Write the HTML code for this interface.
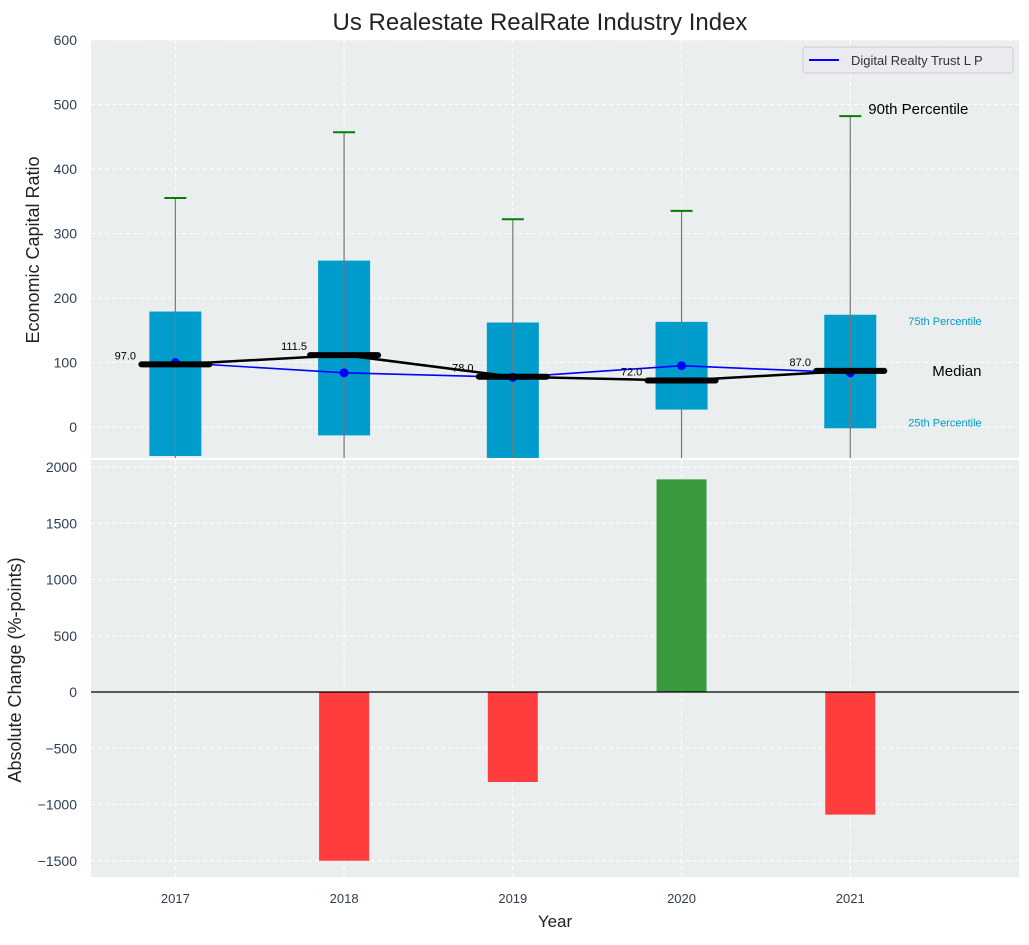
<!DOCTYPE html>
<html><head><meta charset="utf-8"><style>
body{margin:0;background:#fff;font-family:"Liberation Sans",Arial,sans-serif}
svg text{font-family:"Liberation Sans",Arial,sans-serif}
</style></head><body>
<svg id="c" width="1029" height="940" xmlns="http://www.w3.org/2000/svg"></svg>
<script>
const years=[2017,2018,2019,2020,2021];
const p25=[-45,-13,-48,27,-2];
const p75=[179,258,162,163,174];
const p90=[355,457,322,335,482];
const medians=[97,111.5,78,72,87];
const company=[100,84,77,95,84];
const changes=[0,-1500,-800,1890,-1090];
const topTicks=[0,100,200,300,400,500,600];
const botTicks=[-1500,-1000,-500,0,500,1000,1500,2000];

const svg=document.getElementById('c');
const NS='http://www.w3.org/2000/svg';
function el(t,a,txt){const e=document.createElementNS(NS,t);for(const k in a)e.setAttribute(k,a[k]);if(txt!==undefined)e.textContent=txt;svg.appendChild(e);return e;}
const L=91,R=1019;
const x=v=>L+(v-2016.5)/(5.5)*(R-L);
const T0=40,T1=458,yT=v=>427-v*0.645;
const B0=460,B1=877,yB=v=>692-v*0.1125;
const TC='#2e3e50';

let e;
e=el('rect',{x:L,y:T0,width:R-L,height:T1-T0,fill:'#eaeeef'});

e=el('rect',{x:L,y:B0,width:R-L,height:B1-B0,fill:'#eaeeef'});

years.forEach(v=>{
 el('line',{x1:x(v),x2:x(v),y1:T0,y2:T1,stroke:'#fff','stroke-dasharray':'4,3'});
 el('line',{x1:x(v),x2:x(v),y1:B0,y2:B1,stroke:'#fff','stroke-dasharray':'4,3'});
 e=el('text',{x:x(v),y:903,'text-anchor':'middle','font-size':13,fill:TC},v);
 
});
topTicks.forEach(v=>{
 el('line',{x1:L,x2:R,y1:yT(v),y2:yT(v),stroke:'#fff','stroke-dasharray':'4,3'});
 e=el('text',{x:77,y:yT(v)+5,'text-anchor':'end','font-size':14,fill:TC},v);
 
});
botTicks.forEach(v=>{
 el('line',{x1:L,x2:R,y1:yB(v),y2:yB(v),stroke:'#fff','stroke-dasharray':'4,3'});
 e=el('text',{x:77,y:yB(v)+5,'text-anchor':'end','font-size':14,fill:TC},String(v).replace('-','−'));
 
});
const defs=el('defs',{});
const cp=document.createElementNS(NS,'clipPath');cp.setAttribute('id','ct');
const cr=document.createElementNS(NS,'rect');cr.setAttribute('x',L);cr.setAttribute('y',T0);cr.setAttribute('width',R-L);cr.setAttribute('height',T1-T0);
cp.appendChild(cr);defs.appendChild(cp);
const g=document.createElementNS(NS,'g');g.setAttribute('clip-path','url(#ct)');svg.appendChild(g);
function gel(t,a){const q=document.createElementNS(NS,t);for(const k in a)q.setAttribute(k,a[k]);g.appendChild(q);return q;}
years.forEach((v,i)=>{
 const b=gel('rect',{x:x(v)-26,y:yT(p75[i]),width:52,height:yT(p25[i])-yT(p75[i]),fill:'#009ccc'});
 
 const w=gel('line',{x1:x(v),x2:x(v),y1:yT(p90[i]),y2:T1+5,stroke:'#777','stroke-width':1.2});
 
 const c=gel('line',{x1:x(v)-11,x2:x(v)+11,y1:yT(p90[i]),y2:yT(p90[i]),stroke:'green','stroke-width':2});
 
});
let pts=years.map((v,i)=>x(v)+','+yT(company[i])).join(' ');
e=gel('polyline',{points:pts,fill:'none',stroke:'blue','stroke-width':1.6});

years.forEach((v,i)=>{e=gel('circle',{cx:x(v),cy:yT(company[i]),r:4.5,fill:'blue'});
 });
pts=years.map((v,i)=>x(v)+','+yT(medians[i])).join(' ');
e=gel('polyline',{points:pts,fill:'none',stroke:'#000','stroke-width':2.5});

years.forEach((v,i)=>{
 e=gel('line',{x1:x(v)-34,x2:x(v)+34,y1:yT(medians[i]),y2:yT(medians[i]),stroke:'#000','stroke-width':6,'stroke-linecap':'round'});
 
 e=el('text',{x:x(v)-50,y:yT(medians[i])-5,'text-anchor':'middle','font-size':11,fill:'#000'},medians[i].toFixed(1));
 
});
const lx=x(2021);
e=el('text',{x:lx+18,y:yT(p90[4])-2,'font-size':15,fill:'#000'},'90th Percentile');
e=el('text',{x:lx+58,y:yT(p75[4])+10,'font-size':11,fill:'#009ccc'},'75th Percentile');
e=el('text',{x:lx+82,y:yT(medians[4])+5,'font-size':15,fill:'#000'},'Median');
e=el('text',{x:lx+58,y:yT(p25[4])-2,'font-size':11,fill:'#009ccc'},'25th Percentile');
e=el('rect',{x:803,y:47,width:210,height:26,rx:3,fill:'#eaeaf0',stroke:'#ccc'});
el('line',{x1:809,x2:839,y1:60,y2:60,stroke:'blue','stroke-width':2});
e=el('text',{x:851,y:65,'font-size':13,fill:'#333'},'Digital Realty Trust L P');
years.forEach((v,i)=>{
 const c=changes[i];if(c===0)return;
 const y0=yB(Math.max(c,0)),y1=yB(Math.min(c,0));
 e=el('rect',{x:x(v)-25,y:y0,width:50,height:y1-y0,fill:c>0?'#3a9b3e':'#ff3d3d'});
 
});
e=el('line',{x1:L,x2:R,y1:yB(0),y2:yB(0),stroke:'#000','stroke-width':1.2});
e=el('text',{x:540,y:30,'text-anchor':'middle','font-size':24,fill:'#222'},'Us Realestate RealRate Industry Index');
e=el('text',{x:555,y:927,'text-anchor':'middle','font-size':17,fill:'#222'},'Year');
e=el('text',{x:0,y:0,transform:'translate(39,250) rotate(-90)','text-anchor':'middle','font-size':18,fill:'#222'},'Economic Capital Ratio');
e=el('text',{x:0,y:0,transform:'translate(21,670) rotate(-90)','text-anchor':'middle','font-size':18,fill:'#222'},'Absolute Change (%-points)');
</script>
</body></html>
